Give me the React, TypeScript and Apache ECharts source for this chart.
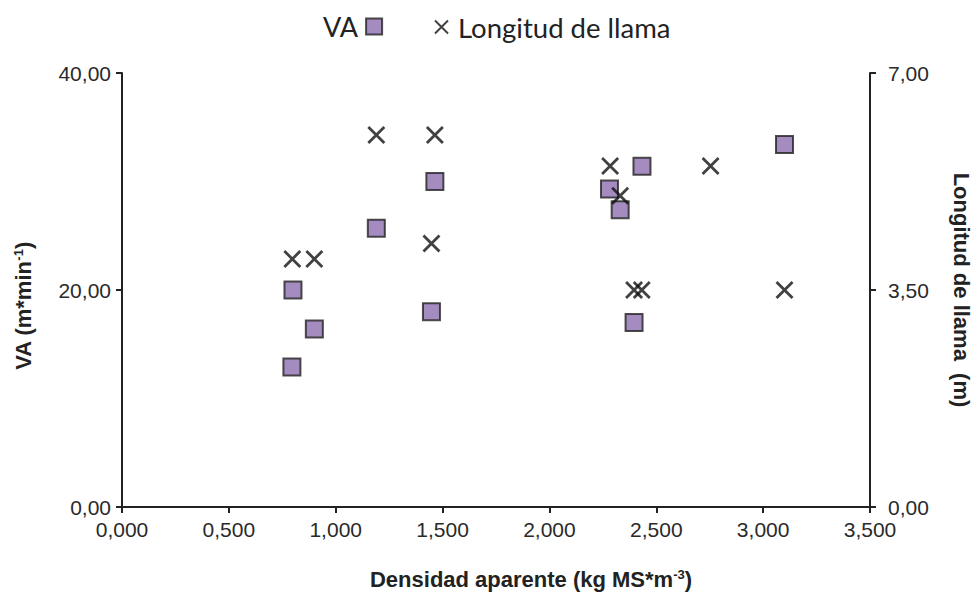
import React, { useEffect, useRef } from "react";
import * as echarts from "echarts";

const vaPoints: [number, number][] = [
  [0.8, 20.0],
  [0.9, 16.4],
  [0.795, 12.9],
  [1.19, 25.7],
  [1.464, 30.0],
  [1.448, 18.0],
  [2.281, 29.3],
  [2.331, 27.4],
  [2.396, 17.0],
  [2.433, 31.4],
  [3.1, 33.4],
];

const llamaPoints: [number, number][] = [
  [0.797, 4.0],
  [0.9, 4.0],
  [1.19, 6.0],
  [1.464, 6.0],
  [1.448, 4.25],
  [2.284, 5.5],
  [2.331, 5.02],
  [2.396, 3.5],
  [2.432, 3.5],
  [2.754, 5.5],
  [3.1, 3.5],
];

const xTicks = { min: 0, max: 3.5, interval: 0.5 };
const leftTicks = { min: 0, max: 40, interval: 20 };
const rightTicks = { min: 0, max: 7, interval: 3.5 };

const seriesNames = ["VA", "Longitud de llama"];

const crossPath = "path://M0,0L10,10M10,0L0,10";
const comma = (d: number) => (v: number) => v.toFixed(d).replace(".", ",");

export default function App() {
  const ref = useRef<HTMLDivElement>(null);
  useEffect(() => {
    document.body.style.margin = "0";
    const chart = echarts.init(ref.current!, undefined, { renderer: "svg" });
    const axisLine = { show: true, lineStyle: { color: "#222", width: 2 } };
    const axisTick = { show: true, length: 6, lineStyle: { color: "#222", width: 2 } };
    const labelStyle = { fontFamily: "Liberation Sans", fontSize: 21, color: "#2a2a2a" };
    const rich = {
      a: { fontFamily: "Liberation Sans", fontSize: 22, fontWeight: "bold", color: "#222" },
      s: { fontFamily: "Liberation Sans", fontSize: 13, fontWeight: "bold", color: "#222", verticalAlign: "top", padding: [0, 0, 8, 0] },
    };
    const nameStyle = {
      fontFamily: "Liberation Sans",
      fontSize: 22,
      fontWeight: "bold" as const,
      color: "#222",
      rich,
    };
    chart.setOption({
      animation: false,
      backgroundColor: "#fff",
      legend: [
        {
          data: [seriesNames[0]],
          left: 318,
          top: 8,
          align: "right",
          itemWidth: 16,
          itemHeight: 16,
          textStyle: { fontFamily: "Lato", fontSize: 27, color: "#222", padding: [0, 3, 0, 0] },
        },
        {
          data: [seriesNames[1]],
          left: 429,
          top: 8,
          align: "left",
          itemWidth: 13,
          itemHeight: 13,
          textStyle: { fontFamily: "Lato", fontSize: 27.5, color: "#222", padding: [0, 0, 0, 5] },
        },
      ],
      grid: { left: 122, right: 105, top: 73, bottom: 89 },
      xAxis: {
        type: "value",
        ...xTicks,
        axisLine,
        axisTick,
        splitLine: { show: false },
        axisLabel: { ...labelStyle, margin: 12, formatter: comma(3) },
        name: "{a|Densidad aparente (kg MS*m}{s|-3}{a|)}",
        nameLocation: "middle",
        nameGap: 61,
        nameTextStyle: { ...nameStyle, padding: [0, 0, 0, 70] },
      },
      yAxis: [
        {
          type: "value",
          position: "left",
          ...leftTicks,
          axisLine,
          axisTick,
          splitLine: { show: false },
          axisLabel: { ...labelStyle, margin: 11, formatter: comma(2) },
          name: "{a|VA (m*min}{s|-1}{a|)}",
          nameLocation: "middle",
          nameGap: 88,
          nameTextStyle: { ...nameStyle, padding: [0, 32, 0, 0] },
        },
        {
          type: "value",
          position: "right",
          ...rightTicks,
          axisLine,
          axisTick,
          splitLine: { show: false },
          axisLabel: { ...labelStyle, margin: 18, formatter: comma(2) },
          name: "Longitud de llama  (m)",
          nameLocation: "middle",
          nameRotate: -90,
          nameGap: 80,
          nameTextStyle: nameStyle,
        },
      ],
      series: [
        {
          name: seriesNames[0],
          type: "scatter",
          yAxisIndex: 0,
          symbol: "rect",
          symbolSize: 17,
          itemStyle: { color: "#8e6fb0", borderColor: "#222", borderWidth: 2 },
          data: vaPoints,
        },
        {
          name: seriesNames[1],
          type: "scatter",
          yAxisIndex: 1,
          symbol: crossPath,
          symbolSize: 16,
          itemStyle: { color: "rgba(0,0,0,0)", borderColor: "#111", borderWidth: 2.8 },
          data: llamaPoints,
        },
      ],
    });
    return () => chart.dispose();
  }, []);
  return <div ref={ref} style={{ width: 980, height: 596 }} />;
}
